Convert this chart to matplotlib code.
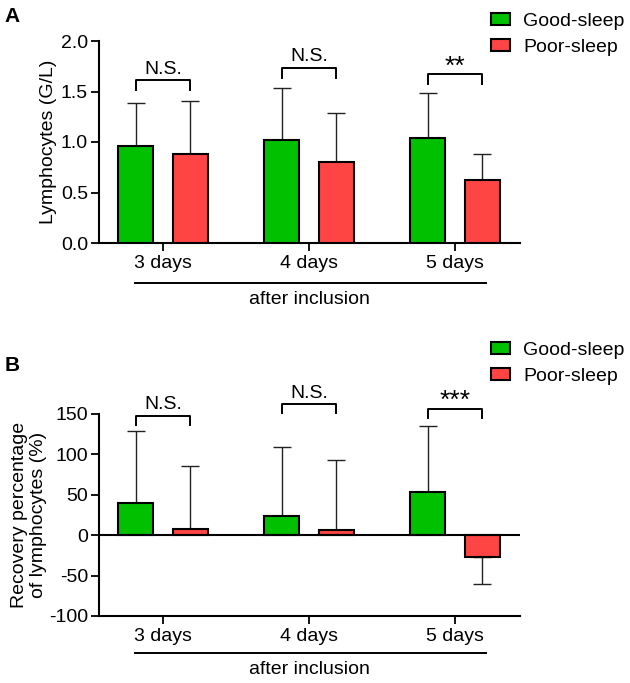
import matplotlib
matplotlib.use("Agg")
import matplotlib.pyplot as plt
from matplotlib.patches import Patch
import matplotlib.transforms as mtransforms
import numpy as np

plt.rcParams['font.family'] = ['Liberation Sans', 'DejaVu Sans']
plt.rcParams['font.size'] = 14

# data
days = ["3 days", "4 days", "5 days"]
groups = ["Good-sleep", "Poor-sleep"]

lym_good = [0.96, 1.02, 1.04]
lym_good_sd = [0.43, 0.51, 0.45]
lym_poor = [0.88, 0.80, 0.62]
lym_poor_sd = [0.53, 0.49, 0.26]
lym_sig = ["N.S.", "N.S.", "**"]
lym_bracket = [1.61, 1.73, 1.67]

rec_good = [40, 24, 54]
rec_good_sd = [89, 85, 81]
rec_poor = [8, 6, -27]
rec_poor_sd = [78, 87, 33]
rec_sig = ["N.S.", "N.S.", "***"]
rec_bracket = [148, 162, 156]

GREEN = "#00c000"
RED = "#ff4444"
W, H = 630, 683


def px_axes(left, top, right, bottom):
    return [left / W, 1 - bottom / H, (right - left) / W, (bottom - top) / H]


def one_sided(vals, sds):
    vals = np.asarray(vals, float)
    sds = np.asarray(sds, float)
    lower = np.where(vals < 0, sds, 0)
    upper = np.where(vals >= 0, sds, 0)
    return [lower, upper]


def draw_panel(ax, good, good_sd, poor, poor_sd, sig, brackets, ylim, yticks, fmt, tick_h):
    x = np.arange(len(days))
    off = 0.187
    bw = 0.24
    ax.bar(x - off, good, bw, color=GREEN, edgecolor="black", linewidth=1.5, zorder=3)
    ax.bar(x + off, poor, bw, color=RED, edgecolor="black", linewidth=1.5, zorder=3)
    ax.errorbar(x - off, good, yerr=one_sided(good, good_sd), fmt="none",
                ecolor="#222222", elinewidth=1.0, capsize=6.5, capthick=1.0, zorder=2)
    ax.errorbar(x + off, poor, yerr=one_sided(poor, poor_sd), fmt="none",
                ecolor="#222222", elinewidth=1.0, capsize=6.5, capthick=1.0, zorder=2)

    ax.set_xlim(-0.438, 2.445)
    ax.set_ylim(*ylim)
    ax.set_yticks(yticks)
    ax.set_yticklabels([fmt.format(v) for v in yticks])
    ax.set_xticks(x)
    ax.set_xticklabels(days)
    for s in ["top", "right"]:
        ax.spines[s].set_visible(False)
    for s in ["left", "bottom"]:
        ax.spines[s].set_linewidth(1.5)
    ax.tick_params(axis="both", length=6, width=1.3, color="black")
    ax.tick_params(axis="x", pad=2.5)
    ax.tick_params(axis="y", pad=2)

    # significance brackets
    for i in range(len(days)):
        y = brackets[i]
        ax.plot([i - off, i - off, i + off, i + off], [y - tick_h, y, y, y - tick_h],
                color="black", lw=1.4, clip_on=False, zorder=4)
        if sig[i].startswith("*"):
            ax.annotate(sig[i], (i, y), xytext=(0, -3), textcoords="offset points",
                        ha="center", va="bottom", fontsize=19, annotation_clip=False)
        else:
            ax.annotate(sig[i], (i, y), xytext=(0, 2), textcoords="offset points",
                        ha="center", va="bottom", annotation_clip=False)

    # blended transform for the group line under the x labels
    return mtransforms.blended_transform_factory(ax.transData, ax.transAxes)


fig = plt.figure(figsize=(W / 100, H / 100), dpi=100)

# panel A
axA = fig.add_axes(px_axes(99, 41, 520, 243))
tA = draw_panel(axA, lym_good, lym_good_sd, lym_poor, lym_poor_sd, lym_sig, lym_bracket,
                (0, 2.0), [0, 0.5, 1.0, 1.5, 2.0], "{:.1f}", 0.1)
axA.plot([-0.19, 2.21], [-0.198, -0.198], color="black", lw=1.4, transform=tA, clip_on=False)
axA.text(1, -0.282, "after inclusion", transform=tA, ha="center", va="center")
axA.set_ylabel("Lymphocytes (G/L)", va="center")
axA.yaxis.set_label_coords(-0.121, 0.5)

# panel B
axB = fig.add_axes(px_axes(99, 414, 520, 616))
tB = draw_panel(axB, rec_good, rec_good_sd, rec_poor, rec_poor_sd, rec_sig, rec_bracket,
                (-100, 150), [-100, -50, 0, 50, 100, 150], "{:.0f}", 11)
axB.axhline(0, color="black", lw=1.5, zorder=4)
axB.plot([-0.19, 2.21], [-0.183, -0.183], color="black", lw=1.4, transform=tB, clip_on=False)
axB.text(1, -0.265, "after inclusion", transform=tB, ha="center", va="center")
axB.set_ylabel("Recovery percentage\nof lymphocytes (%)", va="center", linespacing=1.15)
axB.yaxis.set_label_coords(-0.166, 0.5)

handles = [Patch(facecolor=GREEN, edgecolor="black", linewidth=1.5),
           Patch(facecolor=RED, edgecolor="black", linewidth=1.5)]
for ax, top in [(axA, 13), (axB, 342)]:
    ax.legend(handles, groups, loc="upper left", bbox_to_anchor=(491 / W, 1 - top / H),
              bbox_transform=fig.transFigure, frameon=False, borderpad=0, borderaxespad=0,
              handlelength=1.0, handleheight=0.55, handletextpad=0.65, labelspacing=0.45)

fig.text(4 / W, 1 - 16.5 / H, "A", fontweight="bold", fontsize=15, ha="left", va="center")
fig.text(5 / W, 1 - 365.5 / H, "B", fontweight="bold", fontsize=15, ha="left", va="center")

fig.savefig("out.png", dpi=100)
